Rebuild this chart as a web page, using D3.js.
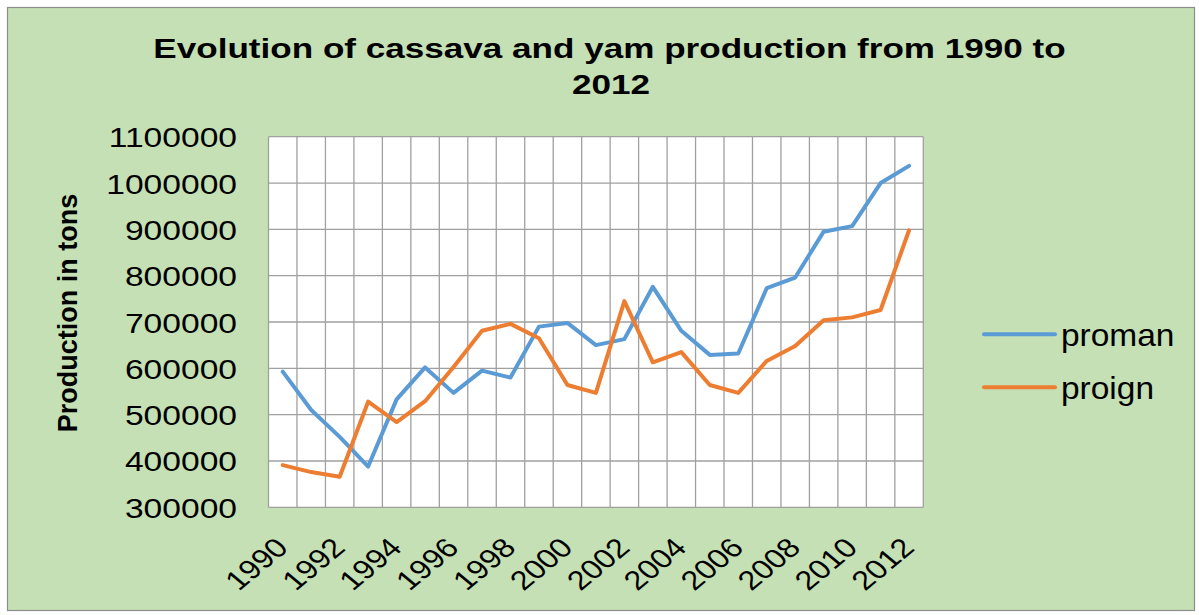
<!DOCTYPE html>
<html>
<head>
<meta charset="utf-8">
<script src="https://cdn.jsdelivr.net/npm/d3@7"></script>
<style>
  html, body { margin: 0; padding: 0; background: #fff; }
  svg text { font-family: "Liberation Sans", Arial, sans-serif; fill: #000; }
</style>
</head>
<body>
<svg id="chart" width="1199" height="615"></svg>
<script>
// data
var years = d3.range(1990, 2013).map(String);
var labelYears = ["1990","1992","1994","1996","1998","2000","2002","2004","2006","2008","2010","2012"];
var proman = [593000, 510000, 452000, 388000, 533000, 602000, 547000, 595000, 580000, 690000, 698000,
              650000, 663000, 776000, 681000, 629000, 632000, 773000, 796000, 895000, 907000, 1000000, 1037000];
var proign = [391000, 376000, 366000, 528000, 484000, 529000, 603000, 681000, 696000, 665000, 564000,
              547000, 745000, 613000, 635000, 564000, 547000, 616000, 648000, 704000, 710000, 726000, 898000];
var yTicks = [300000, 400000, 500000, 600000, 700000, 800000, 900000, 1000000, 1100000];
var seriesNames = ["proman", "proign"];
var seriesColors = ["#5B9BD5", "#ED7D31"];

var svg = d3.select("#chart");

// chart area
svg.append("rect")
  .attr("x", 7.5).attr("y", 7.5)
  .attr("width", 1187).attr("height", 603)
  .attr("fill", "#C5E0B4")
  .attr("stroke", "#8c8c8c")
  .attr("stroke-width", 1.2);

var plot = {left: 268.5, top: 136.7, right: 923.3, bottom: 507.3};

var x = d3.scaleBand().domain(years).range([plot.left, plot.right]).padding(0);
var y = d3.scaleLinear().domain([300000, 1100000]).range([plot.bottom, plot.top]);

svg.append("rect")
  .attr("x", plot.left).attr("y", plot.top)
  .attr("width", plot.right - plot.left).attr("height", plot.bottom - plot.top)
  .attr("fill", "#fff");

// grid
var grid = svg.append("g").attr("stroke", "#a0a0a0").attr("stroke-width", 1.3);
grid.selectAll(".hg").data(yTicks).enter().append("line")
  .attr("x1", plot.left).attr("x2", plot.right)
  .attr("y1", function(d) { return y(d); }).attr("y2", function(d) { return y(d); });
grid.selectAll(".vg").data(years.concat(["end"])).enter().append("line")
  .attr("x1", function(d) { return d == "end" ? plot.right : x(d); })
  .attr("x2", function(d) { return d == "end" ? plot.right : x(d); })
  .attr("y1", plot.top).attr("y2", plot.bottom);

// y axis
var yAxis = svg.append("g")
  .attr("transform", "translate(" + plot.left + ",0)")
  .call(d3.axisLeft(y).tickValues(yTicks).tickSize(0).tickFormat(d3.format("d")));
yAxis.select(".domain").remove();
yAxis.selectAll("text")
  .attr("x", null).attr("dy", null)
  .attr("text-anchor", "end")
  .attr("transform", "translate(-31.5,10) scale(1.2,1)")
  .style("font-size", "28px");

// x axis
var xAxis = svg.append("g")
  .attr("transform", "translate(0," + plot.bottom + ")")
  .call(d3.axisBottom(x).tickValues(labelYears).tickSize(0));
xAxis.select(".domain").remove();
xAxis.selectAll("text")
  .attr("y", null).attr("dy", null)
  .attr("text-anchor", "end")
  .attr("transform", "translate(7,42) scale(1.2,1) rotate(-45)")
  .style("font-size", "27px");

// lines
var line = d3.line()
  .x(function(d, i) { return x(years[i]) + x.bandwidth() / 2; })
  .y(function(d) { return y(d); });

[proman, proign].forEach(function(s, k) {
  svg.append("path")
    .datum(s)
    .attr("fill", "none")
    .attr("stroke", seriesColors[k])
    .attr("stroke-width", 4)
    .attr("stroke-linejoin", "round")
    .attr("stroke-linecap", "round")
    .attr("d", line);
});

// title
var title = svg.append("g").style("font-weight", "bold").style("font-size", "27px");
title.append("text")
  .attr("text-anchor", "middle")
  .attr("transform", "translate(609.5,58) scale(1.3,1)")
  .text("Evolution of cassava and yam production from 1990 to");
title.append("text")
  .attr("text-anchor", "middle")
  .attr("transform", "translate(611,94) scale(1.3,1)")
  .text("2012");

// y axis title
svg.append("text")
  .attr("text-anchor", "middle")
  .attr("transform", "translate(77,313) rotate(-90)")
  .style("font-weight", "bold")
  .style("font-size", "27px")
  .text("Production in tons");

// legend
var legend = svg.selectAll(".legend").data(seriesNames).enter().append("g")
  .attr("transform", function(d, i) { return "translate(984," + (334.3 + i * 53) + ")"; });
legend.append("line")
  .attr("x1", 0).attr("x2", 71)
  .attr("stroke", function(d, i) { return seriesColors[i]; })
  .attr("stroke-width", 4)
  .attr("stroke-linecap", "round");
legend.append("text")
  .attr("transform", "translate(77,12) scale(1.08,1)")
  .style("font-size", "31px")
  .text(function(d) { return d; });
</script>
</body>
</html>
